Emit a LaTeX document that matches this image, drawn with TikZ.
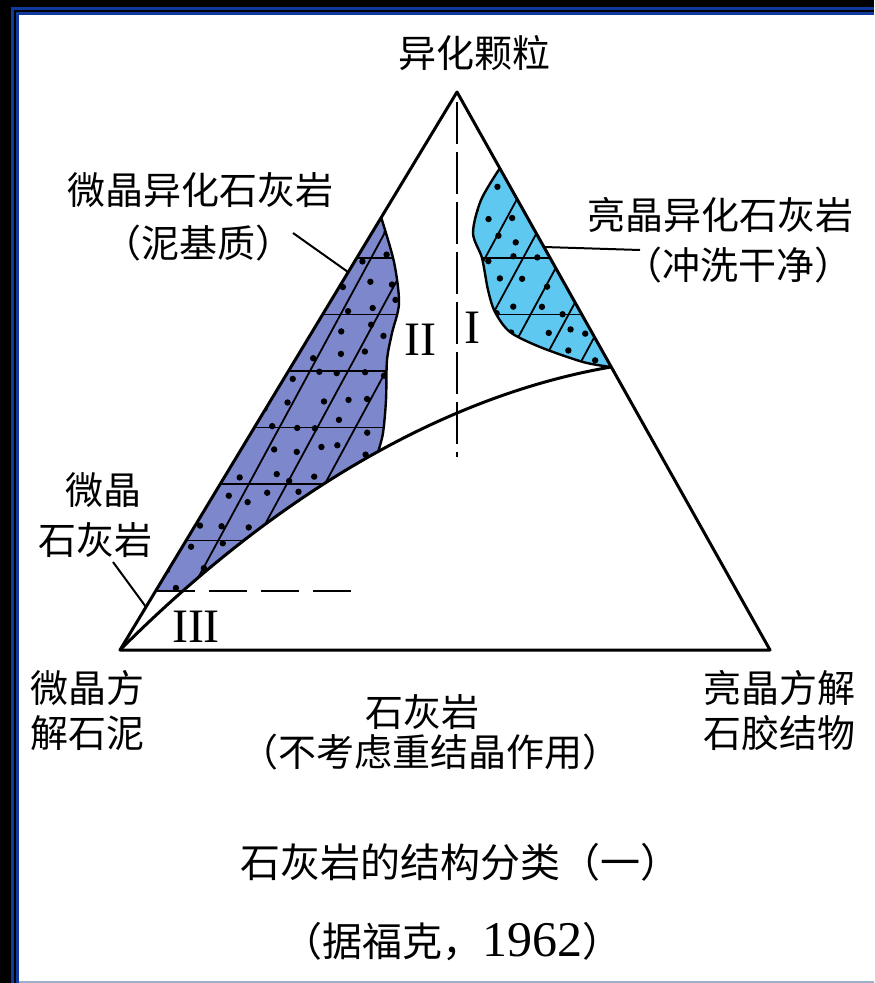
\documentclass[tikz,border=0pt]{standalone}
\usepackage{fontspec}
\newfontfamily\cjk{Noto Sans CJK SC}
\newfontfamily\numfont{Liberation Serif}
\definecolor{frameblue}{RGB}{16,58,158}
\definecolor{framegrey}{RGB}{160,174,203}
\definecolor{micfill}{RGB}{125,136,204}
\definecolor{sparfill}{RGB}{94,200,240}
\tikzset{
  lbl/.style={font=\cjk\fontsize{19}{22}\selectfont, inner sep=0pt},
  ttl/.style={font=\cjk\fontsize{20}{24}\selectfont, inner sep=0pt},
  roman/.style={font=\numfont\fontsize{24}{26}\selectfont, inner sep=0pt},
  triline/.style={line width=1.5pt, line join=round},
  rim/.style={line width=1.2pt, line join=round},
  hatch/.style={line width=0.9pt},
  leader/.style={line width=1pt},
  grain/.style={fill=black},
}
\begin{document}
\begin{tikzpicture}[x=0.5pt,y=-0.5pt]
\useasboundingbox (0,0) rectangle (874,983);
% frame
\fill[black] (0,0) rectangle (874,983);
\fill[frameblue] (11,7) rectangle (874,983);
\fill[black] (14,10) rectangle (874,983);
\fill[frameblue] (16,12) rectangle (874,983);
\fill[white] (19,15) rectangle (874,983);
\fill[framegrey] (19,981) rectangle (874,983);

% corners of the triangle
\coordinate (A) at (457,92);
\coordinate (L) at (120,650);
\coordinate (R) at (770,650);
\coordinate (J) at (611,367);

% micritic allochem field
\def\micwave{(381,217) (394,262) (399,303) (392,333) (387,360) (386,400) (383,433) (378,452)}
\begin{scope}
\clip (L) .. controls (250,520) and (420,400) .. (J) -- (A) -- cycle;
\clip (156,590) -- plot[smooth] coordinates {\micwave} -- (360,590) -- cycle;
\fill[micfill] (100,150) rectangle (450,650);
\foreach \hy in {258,314.5,371,427.5,484,540.5}
  \draw[hatch] (100,\hy) -- (700,\hy);
\foreach \hx in {-400,-362,...,800}
  \draw[hatch] (\hx,700) -- ({\hx+330},90);
\pgfmathsetseed{11}
\foreach \gx in {150,174,...,400}
  \foreach \gy in {210,234,...,600}
    \fill[grain] ({\gx+7*rand},{\gy+7*rand}) circle (1.6pt);
\end{scope}
\draw[rim] plot[smooth] coordinates {\micwave};

% sparry allochem field
\def\sparwave{(500,168) (481,200) (473,233) (482,258) (488,290) (495,312) (510,332) (540,347) (583,362) (611,367)}
\begin{scope}
\clip plot[smooth] coordinates {\sparwave} -- cycle;
\fill[sparfill] (450,150) rectangle (650,400);
\foreach \hy in {258,314.5}
  \draw[hatch] (400,\hy) -- (700,\hy);
\foreach \hx in {-400,-362,...,800}
  \draw[hatch] (\hx,700) -- ({\hx+330},90);
\pgfmathsetseed{5}
\foreach \gx in {470,494,...,620}
  \foreach \gy in {165,189,...,375}
    \fill[grain] ({\gx+7*rand},{\gy+7*rand}) circle (1.6pt);
\end{scope}
\draw[rim] plot[smooth] coordinates {\sparwave};

% triangle, boundary curve, dashed dividers
\draw[triline] (L) -- (A) -- (R) -- cycle;
\draw[triline] (L) .. controls (250,520) and (420,400) .. (J);
\coordinate (vtop) at (457,102);
\coordinate (vbot) at (457,457);
\draw[line width=1.1pt, dash pattern=on 21pt off 4pt] (vtop) -- (vbot);
\coordinate (hleft) at (157,591);
\coordinate (hright) at (363,591);
\draw[line width=1.3pt, dash pattern=on 19pt off 7pt] (hleft) -- (hright);

% field numbers
\node[roman] (nI) at (472,328) {I};
\node[roman] (nII) at (420,340) {II};
\node[roman] (nIII) at (196,627) {III};

% labels
\node[lbl] (tApex) at (474,53) {异化颗粒};
\node[lbl] (tMicAl) at (200,190) {微晶异化石灰岩};
\node[lbl] (tMicAlB) at (198,243) {（泥基质）};
\node[lbl] (tSpaAl) at (720,215) {亮晶异化石灰岩};
\node[lbl] (tSpaAlB) at (738,265) {（冲洗干净）};
\node[lbl] (tMic) at (103,490) {微晶};
\node[lbl] (tMicB) at (95,540) {石灰岩};
\node[lbl] (tLeft) at (87,688) {微晶方};
\node[lbl] (tLeftB) at (87,733) {解石泥};
\node[lbl] (tRight) at (779,688) {亮晶方解};
\node[lbl] (tRightB) at (779,733) {石胶结物};
\node[lbl] (tBase) at (422,712) {石灰岩};
\node[lbl] (tBaseB) at (430,752) {（不考虑重结晶作用）};
\node[ttl] (tTitle) at (460,862) {石灰岩的结构分类（一）};
\node[ttl] (tSource) at (452,942) {（据福克，{\numfont\fontsize{25}{26}\selectfont 1962}）};

% leaders
\coordinate (kMicAl) at (293,233);
\coordinate (eMicAl) at (348,272);
\draw[leader] (kMicAl) -- (eMicAl);
\coordinate (eSpaAl) at (544,247);
\coordinate (kSpaAl) at (640,250);
\draw[leader] (eSpaAl) -- (kSpaAl);
\coordinate (kMic) at (113,562);
\coordinate (eMic) at (146,607);
\draw[leader] (kMic) -- (eMic);
\end{tikzpicture}
\end{document}
